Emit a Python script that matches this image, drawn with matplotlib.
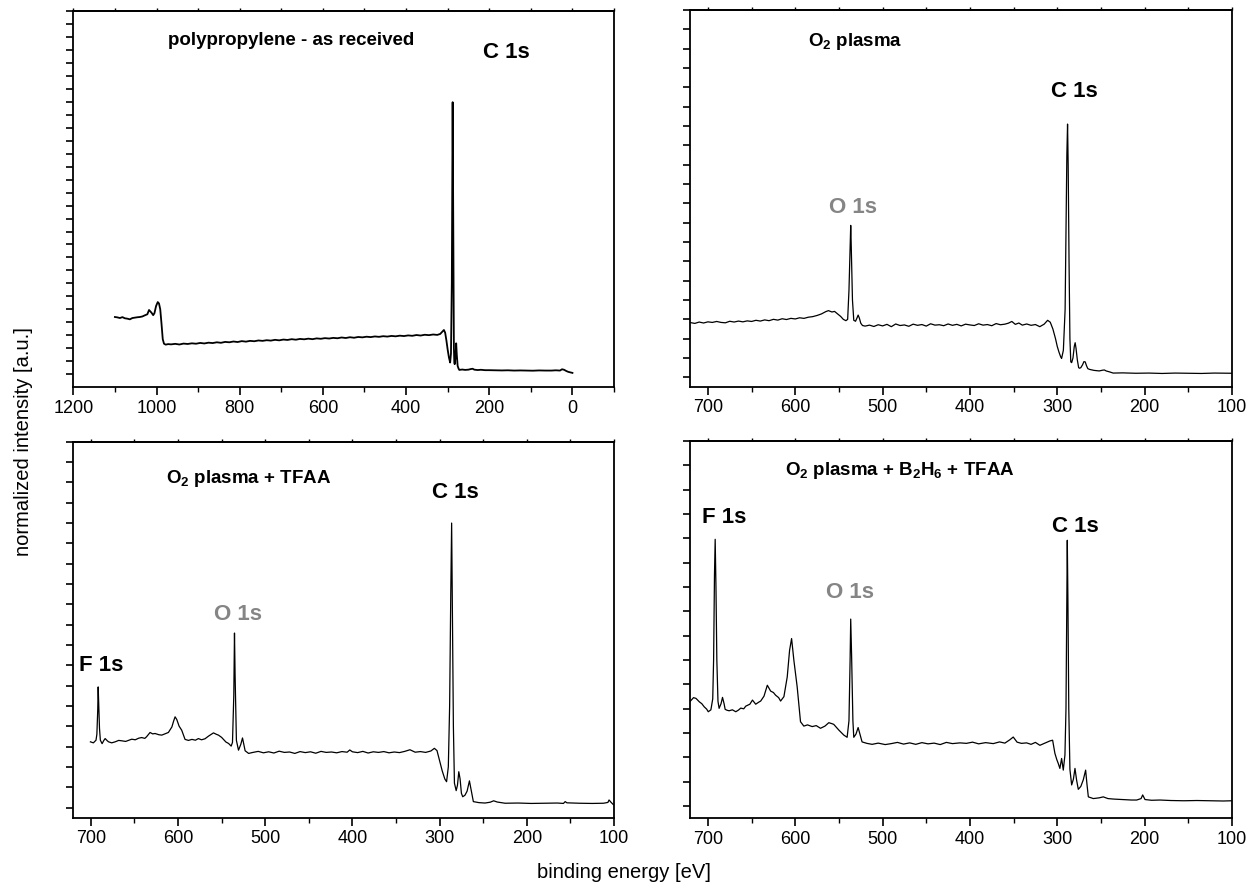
import matplotlib
matplotlib.use("Agg")
import matplotlib.pyplot as plt
from matplotlib.ticker import MultipleLocator, FixedLocator

plt.rcParams["mathtext.fontset"] = "custom"
plt.rcParams["mathtext.rm"] = "Liberation Sans:bold"
plt.rcParams["mathtext.it"] = "Liberation Sans:bold"
plt.rcParams["mathtext.bf"] = "Liberation Sans:bold"
plt.rcParams["mathtext.default"] = "rm"

NARROW = ["Liberation Sans Narrow", "Liberation Sans", "DejaVu Sans"]
SANS = ["Liberation Sans", "DejaVu Sans"]

# ---- XPS survey spectra: (binding energy [eV], normalized intensity) ----
pp_points = [
    (1100, 5.41), (1094, 5.38), (1088, 5.33), (1082, 5.40), (1076, 5.31), (1070, 5.28),
    (1064, 5.23), (1058, 5.33), (1052, 5.36), (1046, 5.39), (1040, 5.41), (1034, 5.45),
    (1028, 5.54), (1022, 5.62), (1018, 5.95), (1015, 5.85), (1012, 5.74), (1008, 5.55),
    (1005, 5.70), (1001, 6.26), (997, 6.56), (994, 6.45), (991, 6.00), (988, 4.90),
    (985, 3.70), (982, 3.35), (978, 3.28), (972, 3.32),
    (965, 3.30), (955, 3.34), (945, 3.29), (935, 3.36), (925, 3.33), (915, 3.38),
    (905, 3.35), (895, 3.41), (885, 3.37), (875, 3.43), (865, 3.40), (855, 3.46),
    (845, 3.42), (835, 3.49), (825, 3.46), (815, 3.52), (805, 3.48), (795, 3.55),
    (785, 3.51), (775, 3.57), (765, 3.54), (755, 3.60), (745, 3.57), (735, 3.62),
    (725, 3.59), (715, 3.65), (705, 3.61), (695, 3.67), (685, 3.64), (675, 3.70),
    (665, 3.66), (655, 3.72), (645, 3.69), (635, 3.74), (625, 3.70), (615, 3.76),
    (605, 3.73), (595, 3.78), (585, 3.75), (575, 3.80), (565, 3.77), (555, 3.83),
    (545, 3.79), (535, 3.85), (525, 3.81), (515, 3.87), (505, 3.84), (495, 3.89),
    (485, 3.86), (475, 3.91), (465, 3.88), (455, 3.93), (445, 3.90), (435, 3.95),
    (425, 3.92), (415, 3.97), (405, 3.94), (395, 3.99), (385, 3.96), (375, 4.02),
    (365, 3.98), (355, 4.04), (345, 4.01), (335, 4.06), (325, 4.03),
    (318, 4.10), (312, 4.30), (309, 4.41), (306, 4.20), (303, 3.60), (300, 2.90),
    (297, 2.30), (294, 1.90), (292, 2.60), (290, 8.00), (289, 15.0), (288, 21.97),
    (287, 15.5), (286, 8.00), (285, 3.00), (284, 1.90), (283, 1.77), (281, 2.40),
    (279.5, 3.38), (278, 2.50), (276, 1.64), (274, 1.45), (272, 1.33), (265, 1.36),
    (258, 1.33), (250, 1.35), (244, 1.40), (240, 1.42), (236, 1.35), (228, 1.32),
    (220, 1.34), (210, 1.31), (200, 1.31), (185, 1.30), (170, 1.29), (155, 1.30),
    (140, 1.28), (125, 1.29), (110, 1.28), (95, 1.27), (80, 1.29), (65, 1.28),
    (50, 1.28), (40, 1.30), (30, 1.28), (25, 1.38), (20, 1.34), (15, 1.25),
    (10, 1.18), (5, 1.14), (0, 1.10),
]

o2_points = [
    (720, 2.83), (715, 2.79), (710, 2.86), (705, 2.81), (700, 2.87), (695, 2.84),
    (690, 2.89), (685, 2.84), (680, 2.82), (675, 2.90), (670, 2.86), (665, 2.91),
    (660, 2.87), (655, 2.92), (650, 2.89), (645, 2.95), (640, 2.91), (635, 2.97),
    (630, 2.93), (625, 3.00), (620, 2.96), (615, 3.03), (610, 2.99), (605, 3.05),
    (600, 3.02), (595, 3.08), (590, 3.05), (585, 3.11), (580, 3.14), (575, 3.20),
    (570, 3.28), (565, 3.40), (562, 3.45), (558, 3.38), (555, 3.41), (552, 3.30),
    (548, 3.15), (545, 3.00), (542, 2.93), (540, 3.00), (538.5, 4.50), (537, 7.00),
    (536.5, 7.86), (536, 7.00), (534.5, 4.00), (533, 2.95), (531, 2.90),
    (529.5, 3.05), (528, 3.22), (526.5, 3.05), (525, 2.80), (523, 2.68), (520, 2.65),
    (515, 2.70), (510, 2.63), (505, 2.72), (500, 2.66), (495, 2.74), (490, 2.62),
    (485, 2.76), (480, 2.68), (475, 2.71), (470, 2.64), (465, 2.75), (460, 2.69),
    (455, 2.73), (450, 2.65), (445, 2.77), (440, 2.70), (435, 2.72), (430, 2.67),
    (425, 2.76), (420, 2.69), (415, 2.74), (410, 2.66), (405, 2.75), (400, 2.71),
    (395, 2.68), (390, 2.77), (385, 2.70), (380, 2.73), (375, 2.67), (370, 2.78),
    (365, 2.72), (360, 2.75), (356, 2.80), (352, 2.89), (348, 2.74), (344, 2.81),
    (340, 2.70), (335, 2.76), (330, 2.69), (325, 2.73), (320, 2.62), (315, 2.75),
    (311, 2.95), (308, 2.85), (305, 2.50), (302, 2.00), (300, 1.60), (298, 1.30),
    (296, 1.05), (295, 0.98), (293, 1.40), (291, 3.50), (290, 7.50), (289, 11.5),
    (288.2, 13.1), (287.5, 11.0), (286.5, 6.00), (285.5, 2.00), (284.5, 0.80),
    (283.5, 0.76), (282, 1.00), (280.5, 1.60), (279.5, 1.79), (278.5, 1.50),
    (277, 0.90), (275.5, 0.50), (274.5, 0.47), (273, 0.50), (271, 0.65),
    (269.5, 0.81), (268, 0.80), (266.5, 0.60), (265, 0.45), (263, 0.41), (258, 0.36),
    (252, 0.33), (248, 0.37), (246, 0.38), (244, 0.33), (240, 0.28), (236, 0.22),
    (225, 0.23), (210, 0.21), (195, 0.22), (180, 0.20), (165, 0.22), (150, 0.21),
    (135, 0.20), (120, 0.22), (100, 0.21),
]

tfaa_points = [
    (700.4, 3.23), (697, 3.18), (694, 3.31), (693, 3.60), (692, 4.80), (691.5, 5.93),
    (691, 5.20), (690, 3.90), (689, 3.31), (687, 3.14), (685, 3.30), (683.5, 3.39),
    (681, 3.28), (679.6, 3.23), (676, 3.18), (672, 3.23), (668, 3.30), (664.4, 3.28),
    (660, 3.25), (656, 3.31), (653, 3.36), (649, 3.33), (645, 3.41), (641.6, 3.44),
    (638, 3.40), (636, 3.48), (632, 3.69), (629, 3.62), (626.3, 3.64), (622, 3.58),
    (618.6, 3.56), (615, 3.62), (611, 3.69), (607, 3.96), (605, 4.25), (603.3, 4.46),
    (601.4, 4.33), (598.7, 4.00), (595.7, 3.80), (591.9, 3.35), (588, 3.30),
    (584, 3.35), (580, 3.31), (576.6, 3.39), (573, 3.33), (569, 3.38), (565, 3.51),
    (559.3, 3.67), (556, 3.60), (553.6, 3.56), (550, 3.45), (547.8, 3.35),
    (545, 3.22), (542, 3.15), (539, 3.02), (537.5, 3.20), (536, 5.50), (535.2, 8.58),
    (534.5, 6.50), (533, 3.30), (530.6, 2.82), (528, 3.10), (526, 3.42),
    (524.5, 3.10), (523, 2.79), (519, 2.66),
    (514, 2.71), (508, 2.76), (502, 2.69), (496, 2.74), (490, 2.68), (484, 2.77),
    (478, 2.71), (472, 2.73), (466, 2.66), (460, 2.75), (454, 2.70), (448, 2.74),
    (442, 2.67), (436, 2.76), (430, 2.71), (424, 2.73), (418, 2.69), (412, 2.75),
    (406, 2.72), (403, 2.83), (400, 2.74), (394, 2.70), (388, 2.76), (382, 2.68),
    (376, 2.74), (370, 2.71), (364, 2.75), (358, 2.69), (352, 2.73), (346, 2.70),
    (340, 2.76), (334, 2.84), (328, 2.72), (322, 2.75), (316, 2.71), (310, 2.78),
    (306, 2.91), (303, 2.80), (300, 2.30), (297, 1.80), (294, 1.40), (292, 1.27),
    (290, 2.00), (288.5, 5.00), (287.2, 10.5), (286.2, 13.99), (285.3, 9.50),
    (284.2, 4.00), (283, 1.20), (281, 0.83), (279.5, 1.10), (278, 1.76),
    (276.5, 1.40), (275, 0.70), (273.5, 0.53), (271, 0.60), (268.5, 0.80),
    (265.8, 1.31), (264, 0.90), (261.3, 0.29), (255, 0.24), (248, 0.22), (242, 0.26),
    (238, 0.33), (234, 0.27), (225, 0.21), (210, 0.22), (195, 0.20), (180, 0.21),
    (165, 0.22), (158, 0.20), (156, 0.29), (154, 0.23), (140, 0.21), (125, 0.20),
    (112, 0.21), (107, 0.25), (105.7, 0.37), (103.5, 0.26), (100.5, 0.13),
]

b2h6_points = [
    (720, 4.31), (716.5, 4.45), (713.7, 4.42), (709.9, 4.28), (707, 4.20),
    (704.2, 4.07), (701.5, 3.98), (699.6, 3.87), (696.6, 3.95), (694.5, 4.40),
    (693.5, 6.00), (692.5, 9.50), (691.7, 10.96), (690.8, 9.00), (689.8, 6.00),
    (688.5, 4.30), (687.2, 4.01), (685, 4.20), (683.3, 4.46), (681.5, 4.20),
    (680.3, 3.97), (678, 3.93), (675.7, 3.91), (672, 3.95), (668.1, 3.87),
    (665, 3.94), (662.4, 4.02), (659, 3.99), (656.7, 4.10), (652, 4.18), (649, 4.35),
    (645.3, 4.18), (642, 4.26), (639.6, 4.31), (635.8, 4.51), (632, 4.96),
    (630, 4.83), (628.2, 4.72), (625, 4.66), (622.5, 4.55), (619, 4.45),
    (616.8, 4.31), (613, 4.49), (609.2, 5.30), (606.5, 6.40), (604.2, 6.88),
    (601.6, 5.99), (597.8, 4.89), (594, 3.46), (590.2, 3.28), (586, 3.33),
    (580.6, 3.26), (576, 3.30), (571.1, 3.19), (566, 3.28), (561.6, 3.42),
    (558, 3.38), (555.9, 3.35), (550.2, 3.12), (544.4, 2.91), (540.6, 2.82),
    (538.5, 3.50), (537.2, 6.00), (536.5, 7.68), (535.5, 6.20), (534, 3.50),
    (533, 2.82), (530.5, 2.95), (528, 3.22), (525.5, 2.90), (523.5, 2.63),
    (518, 2.57), (512, 2.53), (505, 2.58), (497, 2.52),
    (490, 2.56), (483, 2.61), (476, 2.54), (469, 2.59), (462, 2.53), (455, 2.60),
    (448, 2.55), (441, 2.58), (434, 2.52), (427, 2.61), (420, 2.56), (411.4, 2.59),
    (404, 2.57), (397, 2.62), (390, 2.55), (382, 2.60), (373.3, 2.56), (366, 2.63),
    (360, 2.58), (354.2, 2.72), (350.4, 2.83), (346, 2.62), (341, 2.57),
    (335.1, 2.59), (330, 2.53), (325, 2.61), (319.9, 2.49), (314, 2.58),
    (308.4, 2.67), (305.3, 2.70), (302.7, 2.16), (300.5, 1.90), (298.9, 1.75),
    (297, 1.54), (295, 1.95), (293.1, 1.47), (291.2, 2.09), (290, 4.00),
    (289.2, 8.00), (288.5, 10.92), (287.8, 8.50), (286.8, 4.00), (285.5, 1.50),
    (283.5, 0.86), (281.5, 1.10), (279.7, 1.54), (277.8, 1.05), (275.9, 0.68),
    (273, 0.80), (270.2, 1.07), (267.5, 1.47), (266, 0.90), (264.4, 0.37),
    (258.7, 0.30), (252, 0.33), (247.3, 0.37), (242, 0.30), (235.8, 0.28),
    (225, 0.26), (215, 0.24), (209, 0.24), (204, 0.30), (202.2, 0.45), (199.5, 0.26),
    (192, 0.23), (182.3, 0.24), (170, 0.22), (155, 0.21), (140, 0.22), (125, 0.21),
    (110, 0.20), (100, 0.21),
]

panel_titles = ["polypropylene - as received", "O$_2$ plasma", "O$_2$ plasma + TFAA",
                "O$_2$ plasma + B$_2$H$_6$ + TFAA"]
xlabel_text = "binding energy [eV]"
ylabel_text = "normalized intensity [a.u.]"

fig = plt.figure(figsize=(12.47, 8.88), dpi=100)

# axes rectangles [left, bottom, width, height] in figure fraction
rects = [
    [0.0588, 0.5640, 0.4336, 0.4236],
    [0.5537, 0.5642, 0.4342, 0.4245],
    [0.0588, 0.0792, 0.4336, 0.4236],
    [0.5537, 0.0788, 0.4342, 0.4245],
]
xlims = [(1200, -100), (720, 100), (720, 100), (720, 100)]
xmajor = [200, 100, 100, 100]
ylims = [(0, 29), (-0.5, 19), (-0.5, 18), (-0.5, 15)]
ytick_max = [29, 19, 18, 15]
ytick_min = [1, 0, 0, 0]
spectra = [pp_points, o2_points, tfaa_points, b2h6_points]
line_widths = [1.3, 0.9, 0.9, 0.9]

axes = []
for i in range(4):
    ax = fig.add_axes(rects[i])
    energy = [p[0] for p in spectra[i]]
    counts = [p[1] for p in spectra[i]]
    ax.plot(energy, counts, color="black", lw=line_widths[i], solid_joinstyle="round")
    ax.set_xlim(*xlims[i])
    ax.set_ylim(*ylims[i])
    ax.xaxis.set_major_locator(MultipleLocator(xmajor[i]))
    ax.xaxis.set_minor_locator(MultipleLocator(xmajor[i] / 2))
    ax.yaxis.set_major_locator(FixedLocator(list(range(ytick_min[i], ytick_max[i] + 1))))
    ax.set_yticklabels([])
    ax.tick_params(axis="x", which="major", direction="out", length=6, width=1.2,
                   labelsize=13, pad=3)
    ax.tick_params(axis="x", which="minor", direction="out", length=3.5, width=1.0)
    ax.tick_params(axis="y", which="major", direction="out", length=5, width=1.2)
    for lab in ax.get_xticklabels():
        lab.set_fontfamily(NARROW)
    top = ax.secondary_xaxis("top")
    top.xaxis.set_major_locator(MultipleLocator(xmajor[i]))
    top.xaxis.set_minor_locator(MultipleLocator(xmajor[i] / 2))
    top.tick_params(which="both", direction="out", length=2.5, width=1.0,
                    labeltop=False)
    for side in ["top", "bottom", "left", "right"]:
        ax.spines[side].set_linewidth(1.3)
    top.spines["top"].set_linewidth(1.3)
    axes.append(ax)

label_font = dict(family=NARROW, fontweight="bold", fontsize=16)
title_font = dict(family=SANS, fontweight="bold", fontsize=13.5)
grey = "#858585"

ax1, ax2, ax3, ax4 = axes
ax1.text(0.403, 0.922, panel_titles[0], transform=ax1.transAxes, ha="center",
         va="center", **title_font)
ax1.text(0.758, 0.8745, "C 1s", transform=ax1.transAxes, ha="left", va="baseline",
         **label_font)

ax2.text(0.2177, 0.9045, panel_titles[1], transform=ax2.transAxes, ha="left",
         va="baseline", **title_font)
ax2.text(0.6664, 0.7684, "C 1s", transform=ax2.transAxes, ha="left", va="baseline",
         **label_font)
ax2.text(0.2565, 0.4624, "O 1s", transform=ax2.transAxes, ha="left", va="baseline",
         color=grey, **label_font)

ax3.text(0.1723, 0.891, panel_titles[2], transform=ax3.transAxes, ha="left",
         va="baseline", **title_font)
ax3.text(0.664, 0.850, "C 1s", transform=ax3.transAxes, ha="left", va="baseline",
         **label_font)
ax3.text(0.2594, 0.5244, "O 1s", transform=ax3.transAxes, ha="left", va="baseline",
         color=grey, **label_font)
ax3.text(0.0099, 0.389, "F 1s", transform=ax3.transAxes, ha="left", va="baseline",
         **label_font)

ax4.text(0.1753, 0.9098, panel_titles[3], transform=ax4.transAxes, ha="left",
         va="baseline", **title_font)
ax4.text(0.0214, 0.7816, "F 1s", transform=ax4.transAxes, ha="left", va="baseline",
         **label_font)
ax4.text(0.6669, 0.7578, "C 1s", transform=ax4.transAxes, ha="left", va="baseline",
         **label_font)
ax4.text(0.2508, 0.5827, "O 1s", transform=ax4.transAxes, ha="left", va="baseline",
         color=grey, **label_font)

fig.text(0.5, 1 - 872 / 888, xlabel_text, ha="center", va="center",
         family=SANS, fontsize=14.5)
fig.text(24 / 1247, 1 - 442 / 888, ylabel_text, ha="center", va="center",
         rotation=90, family=SANS, fontsize=14.5)

fig.savefig("out.png", dpi=100)
